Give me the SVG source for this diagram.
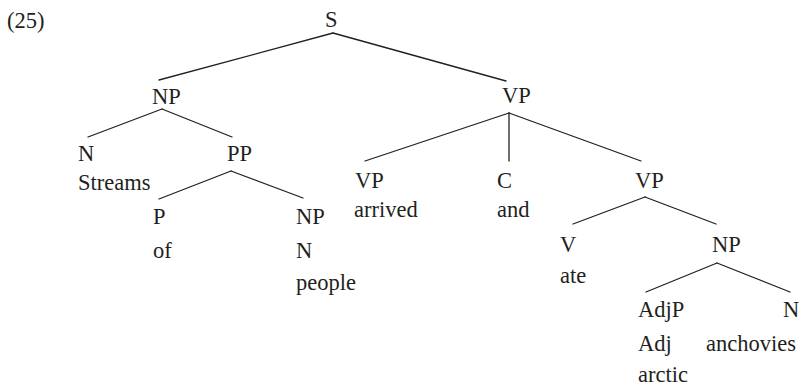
<svg xmlns="http://www.w3.org/2000/svg" width="802" height="386" viewBox="0 0 802 386">
<style>
text{font-family:'Liberation Serif','Times New Roman',serif;font-size:22.5px;fill:#231f20}
.edges line{stroke:#231f20;stroke-width:1.3;stroke-linecap:round}
</style>
<rect width="802" height="386" fill="#fff"/>
<text id="label" x="7" y="28">(25)</text>
<g class="edges" id="connectors">
<line x1="333" y1="33" x2="159" y2="80"/>
<line x1="333" y1="33" x2="506" y2="81"/>
<line x1="162" y1="109" x2="88" y2="137"/>
<line x1="162" y1="109" x2="232" y2="137"/>
<line x1="231" y1="171" x2="159" y2="199"/>
<line x1="231" y1="171" x2="303" y2="198"/>
<line x1="509" y1="113" x2="365" y2="161"/>
<line x1="509" y1="113" x2="509" y2="161"/>
<line x1="509" y1="113" x2="641" y2="161"/>
<line x1="645" y1="197" x2="573" y2="224"/>
<line x1="645" y1="197" x2="716" y2="224"/>
<line x1="717" y1="263" x2="646" y2="292"/>
<line x1="717" y1="263" x2="790" y2="292"/>
</g>
<g id="n-S"><text x="325" y="27">S</text></g>
<g id="n-NP1"><text x="152" y="104">NP</text></g>
<g id="n-VP1"><text x="502" y="103">VP</text></g>
<g id="n-N1"><text x="78" y="161">N</text><text x="78" y="190">Streams</text></g>
<g id="n-PP"><text x="227" y="161">PP</text></g>
<g id="n-VP2"><text x="355" y="188">VP</text><text x="354" y="217">arrived</text></g>
<g id="n-C"><text x="497" y="188">C</text><text x="497" y="217">and</text></g>
<g id="n-VP3"><text x="635" y="188">VP</text></g>
<g id="n-P"><text x="153" y="224">P</text><text x="153" y="258">of</text></g>
<g id="n-NP2"><text x="296" y="224">NP</text><text x="296" y="258">N</text><text x="296" y="290">people</text></g>
<g id="n-V"><text x="560" y="252">V</text><text x="560" y="283">ate</text></g>
<g id="n-NP3"><text x="712" y="252">NP</text></g>
<g id="n-AdjP"><text x="638" y="317">AdjP</text><text x="638" y="351">Adj</text><text x="638" y="382">arctic</text></g>
<g id="n-N3"><text x="783" y="317">N</text><text x="706" y="351">anchovies</text></g>
</svg>
